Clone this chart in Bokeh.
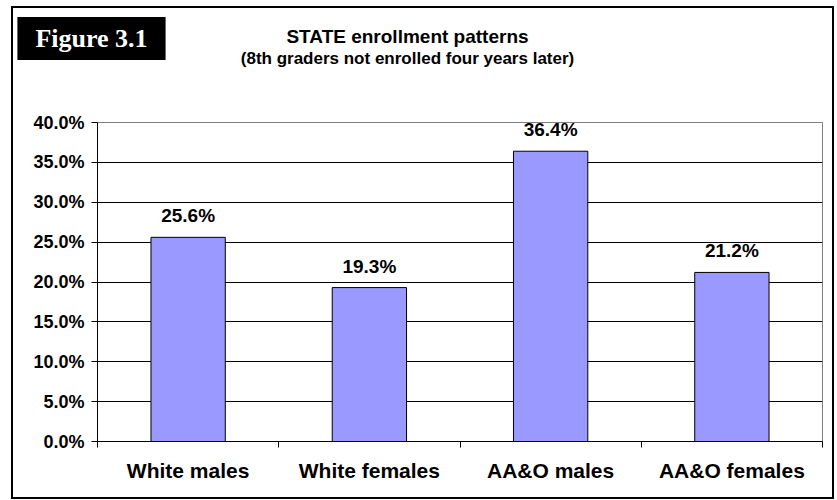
from bokeh.plotting import figure
from bokeh.layouts import column
from bokeh.models import (ColumnDataSource, Range1d, FixedTicker,
                          PrintfTickFormatter, LabelSet, Label)
from bokeh.core.properties import value
from bokeh.embed import file_html
from bokeh.resources import INLINE

categories = ["White males", "White females", "AA&O males", "AA&O females"]
values = [25.6, 19.3, 36.4, 21.2]
value_labels = [f"{v:.1f}%" for v in values]
y_ticks = [0, 5, 10, 15, 20, 25, 30, 35, 40]
title_line1 = "STATE enrollment patterns"
title_line2 = "(8th graders not enrolled four years later)"
figure_tag = "Figure 3.1"

FONT = "Liberation Sans"
W = 837
TOP_H = 112
n = len(categories)
centers = [i + 0.5 for i in range(n)]   # category slots on the x scale
bounds = list(range(n + 1))             # slot boundaries (tick marks)

# ---------- heading band ----------
head = figure(width=W, height=TOP_H, x_range=Range1d(0, W), y_range=Range1d(TOP_H, 0),
              output_backend="svg", toolbar_location=None,
              x_axis_location=None, y_axis_location=None,
              min_border=0, min_border_left=0, min_border_right=0,
              min_border_top=0, min_border_bottom=0)
head.frame_align = False
head.background_fill_color = None
head.border_fill_color = None
head.outline_line_color = None
head.xgrid.visible = False
head.ygrid.visible = False

head.add_layout(Label(x=407, y=36, text=title_line1, text_align="center",
                      text_baseline="middle", text_font=FONT, text_font_style="bold",
                      text_font_size="19px", text_color="black"))
head.add_layout(Label(x=407, y=58, text=title_line2, text_align="center",
                      text_baseline="middle", text_font=FONT, text_font_style="bold",
                      text_font_size="17px", text_color="black"))
head.add_layout(Label(x=91, y=38, text=figure_tag, text_align="center",
                      text_baseline="middle", text_font="Liberation Serif",
                      text_font_style="bold", text_font_size="26px", text_color="white",
                      background_fill_color="black", padding=(18, 7)))

# ---------- chart ----------
src = ColumnDataSource(dict(x=centers, cat=categories, val=values, lab=value_labels))

p = figure(width=W, height=500 - TOP_H,
           x_range=Range1d(0, n), y_range=Range1d(0, 40),
           output_backend="svg", toolbar_location=None,
           min_border_left=97, min_border_right=15, min_border_top=10, min_border_bottom=59)
p.frame_align = False
p.background_fill_color = "white"
p.border_fill_color = None
p.outline_line_color = "#808080"
p.outline_line_width = 1

p.vbar(x="x", top="val", width=0.41, source=src, fill_color="#9999FF",
       line_color="black", line_width=1)

ya = p.yaxis[0]
ya.ticker = FixedTicker(ticks=y_ticks)
ya.formatter = PrintfTickFormatter(format="%.1f%%")
ya.axis_line_color = "black"
ya.major_tick_out = 6
ya.major_tick_in = 0
ya.minor_tick_out = 0
ya.minor_tick_in = 0
ya.major_label_standoff = 7
ya.major_label_text_font = FONT
ya.major_label_text_font_style = "bold"
ya.major_label_text_font_size = "18px"
ya.major_label_text_color = "black"

p.ygrid.ticker = FixedTicker(ticks=y_ticks[1:-1])
p.ygrid.grid_line_color = "black"
p.ygrid.grid_line_width = 1
p.xgrid.grid_line_color = None

xa = p.xaxis[0]
xa.ticker = FixedTicker(ticks=centers, minor_ticks=bounds)
xa.major_label_overrides = {c: cat for c, cat in zip(centers, categories)}
xa.axis_line_color = "black"
xa.major_tick_out = 0
xa.major_tick_in = 0
xa.minor_tick_out = 6
xa.minor_tick_in = 0
xa.minor_tick_line_color = "black"
xa.major_label_standoff = 11
xa.major_label_text_font = FONT
xa.major_label_text_font_style = "bold"
xa.major_label_text_font_size = "21px"
xa.major_label_text_color = "black"

labels = LabelSet(x="x", y="val", text="lab", source=src, text_align="center",
                  text_baseline="alphabetic", y_offset=15, text_font=value(FONT),
                  text_font_style="bold", text_font_size="19px", text_color="black")
p.add_layout(labels)

# outer frame painted behind the (transparent) figures
frame_styles = {
    "background-color": "white",
    "background-image": ("linear-gradient(#000,#000), linear-gradient(#000,#000), "
                         "linear-gradient(#000,#000), linear-gradient(#000,#000)"),
    "background-size": "2px 493px, 823px 2px, 2px 493px, 823px 2px",
    "background-position": "11px 6px, 11px 6px, 832px 6px, 11px 497px",
    "background-repeat": "no-repeat",
}
layout = column(head, p, spacing=0, styles=frame_styles)

open("out.html", "w").write(file_html(layout, INLINE))
